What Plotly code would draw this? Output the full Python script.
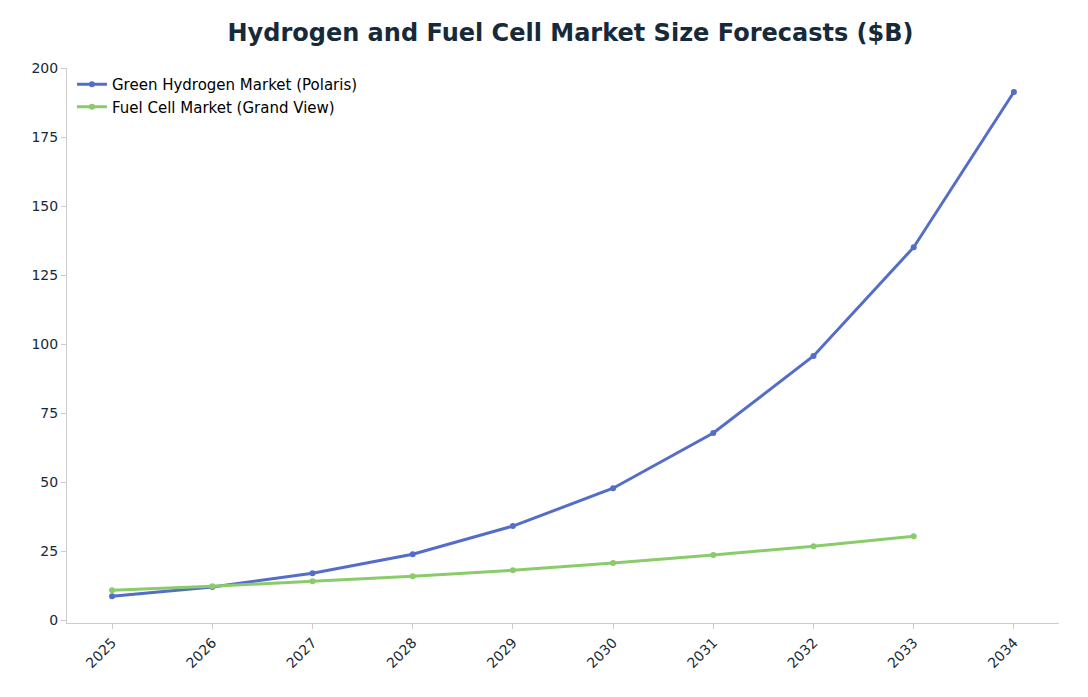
import plotly.graph_objects as go

years = ["2025", "2026", "2027", "2028", "2029", "2030", "2031", "2032", "2033", "2034"]
green_hydrogen = [8.7, 12.0, 17.0, 23.9, 34.1, 47.8, 67.8, 95.7, 135.1, 191.3]
fuel_cell_years = years[:9]
fuel_cell = [10.9, 12.3, 14.1, 15.9, 18.1, 20.7, 23.6, 26.8, 30.4]

fig = go.Figure()
fig.add_trace(go.Scatter(x=years, y=green_hydrogen, mode="lines+markers",
                         name="Green Hydrogen Market (Polaris)",
                         line=dict(color="#536dc8", width=3), marker=dict(size=6)))
fig.add_trace(go.Scatter(x=fuel_cell_years, y=fuel_cell, mode="lines+markers",
                         name="Fuel Cell Market (Grand View)",
                         line=dict(color="#8acb6a", width=3), marker=dict(size=6)))

fig.update_layout(
    width=1088, height=697,
    title=dict(text="<b>Hydrogen and Fuel Cell Market Size Forecasts ($B)</b>",
               x=0.517, y=0.965, yanchor="middle",
               font=dict(size=24, color="#172a3a", family="DejaVu Sans")),
    plot_bgcolor="white", paper_bgcolor="white",
    font=dict(family="DejaVu Sans", size=13, color="#172a3a"),
    margin=dict(l=59, r=37, t=60, b=82),
    legend=dict(x=0.005, y=1.0, bgcolor="rgba(255,255,255,0)", font=dict(size=15, color="black")),
    showlegend=True,
)
fig.update_xaxes(type="category", tickangle=-45, showgrid=False, showline=True,
                 linecolor="#cccccc", ticks="outside", tickcolor="#cccccc",
                 range=[-0.45, 9.45], tickfont=dict(size=14))
fig.update_yaxes(range=[-1, 200], dtick=25, showgrid=False, showline=True,
                 linecolor="#cccccc", ticks="outside", tickcolor="#cccccc", zeroline=False,
                 tickfont=dict(size=14))

fig.write_html("out.html")
